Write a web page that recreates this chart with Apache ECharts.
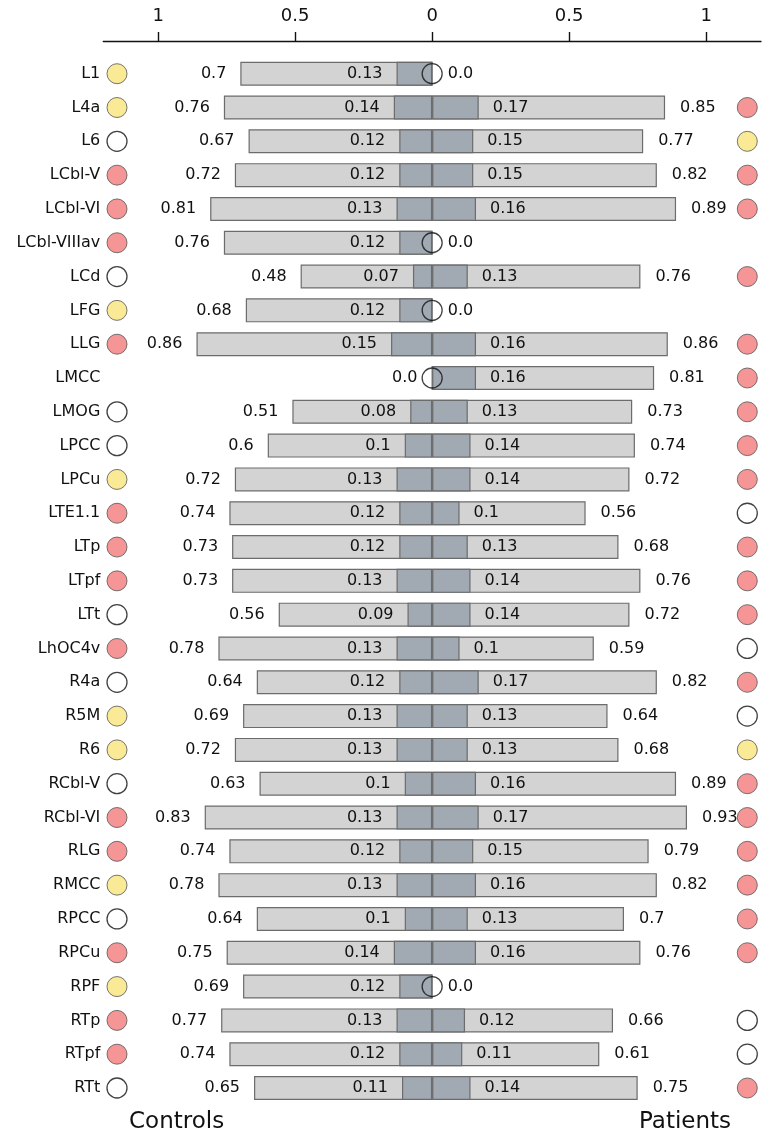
<!DOCTYPE html>
<html>
<head>
<meta charset="utf-8">
<script src="https://cdn.jsdelivr.net/npm/echarts@6/dist/echarts.min.js"></script>
<style>
html,body{margin:0;padding:0;background:#fff;}
#chart{width:765px;height:1136px;}
</style>
</head>
<body>
<div id="chart"></div>
<script>
const categories = ['L1','L4a','L6','LCbl-V','LCbl-VI','LCbl-VIIIav','LCd','LFG','LLG','LMCC','LMOG','LPCC','LPCu','LTE1.1','LTp','LTpf','LTt','LhOC4v','R4a','R5M','R6','RCbl-V','RCbl-VI','RLG','RMCC','RPCC','RPCu','RPF','RTp','RTpf','RTt'];
const controlsOuter = [0.7,0.76,0.67,0.72,0.81,0.76,0.48,0.68,0.86,0,0.51,0.6,0.72,0.74,0.73,0.73,0.56,0.78,0.64,0.69,0.72,0.63,0.83,0.74,0.78,0.64,0.75,0.69,0.77,0.74,0.65];
const controlsInner = [0.13,0.14,0.12,0.12,0.13,0.12,0.07,0.12,0.15,null,0.08,0.1,0.13,0.12,0.12,0.13,0.09,0.13,0.12,0.13,0.13,0.1,0.13,0.12,0.13,0.1,0.14,0.12,0.13,0.12,0.11];
const patientsOuter = [0,0.85,0.77,0.82,0.89,0,0.76,0,0.86,0.81,0.73,0.74,0.72,0.56,0.68,0.76,0.72,0.59,0.82,0.64,0.68,0.89,0.93,0.79,0.82,0.7,0.76,0,0.66,0.61,0.75];
const patientsInner = [null,0.17,0.15,0.15,0.16,null,0.13,null,0.16,0.16,0.13,0.14,0.14,0.1,0.13,0.14,0.14,0.1,0.17,0.13,0.13,0.16,0.17,0.15,0.16,0.13,0.16,null,0.12,0.11,0.14];
const controlsGroup = ['y','y','w','r','r','r','w','y','r','','w','w','y','r','r','r','w','r','w','y','y','w','r','r','y','w','r','y','r','r','w'];
const patientsGroup = ['','r','y','r','r','','r','','r','r','r','r','r','w','r','r','r','w','r','w','y','r','r','r','r','r','r','','w','w','r'];
const tickValues = [-1,-0.5,0,0.5,1];
const sideLabels = ['Controls','Patients'];

const FONT = 'DejaVu Sans';
const groupColor = {y:'#f9e37b', r:'#f47a7a', w:'#ffffff'};
const fmt = v => { const a = Math.abs(v); return a === 0 ? '0.0' : String(a); };

const barBase = {
  type:'bar', barWidth:24, barGap:'-100%',
  itemStyle:{borderColor:'#6c6c6c', borderWidth:1.2},
  label:{show:true, fontFamily:FONT, fontSize:16, color:'#111', distance:14,
         formatter:p => p.value == null ? '' : fmt(p.value)}
};

function statusData(groups, x){
  const out = [];
  groups.forEach((g,i)=>{
    if(!g) return;
    out.push({value:[x,i], itemStyle:{color:groupColor[g], borderColor: g==='w' ? '#111' : '#555', borderWidth: g==='w'?1.3:1}});
  });
  return out;
}
const zeroData = [];
controlsOuter.forEach((v,i)=>{ if(v===0) zeroData.push([0,i]); });
patientsOuter.forEach((v,i)=>{ if(v===0) zeroData.push([0,i]); });

const chart = echarts.init(document.getElementById('chart'), null, {renderer:'canvas'});
chart.setOption({
  animation:false,
  backgroundColor:'#fff',
  grid:{left:103.3, right:4, top:56.8, height:1048.1},
  xAxis:{
    type:'value', min:-1.2, max:1.2, position:'top', offset:15.8,
    splitLine:{show:false},
    axisLine:{show:true, lineStyle:{color:'#111', width:1.4}},
    axisTick:{show:true, length:9, lineStyle:{color:'#111', width:1.4}, customValues:tickValues},
    axisLabel:{fontFamily:FONT, fontSize:18, color:'#111', margin:16, customValues:tickValues,
               formatter:v => String(Math.abs(v))}
  },
  yAxis:{
    type:'category', inverse:true, data:categories,
    axisLine:{show:false}, axisTick:{show:false}, splitLine:{show:false},
    axisLabel:{fontFamily:FONT, fontSize:16, color:'#111', margin:3}
  },
  series:[
    Object.assign({}, barBase, {name:'ctrlOuter', data:controlsOuter.map(v=>-v),
      itemStyle:Object.assign({}, barBase.itemStyle, {color:'#d3d3d3'}),
      label:Object.assign({}, barBase.label, {position:'left'})}),
    Object.assign({}, barBase, {name:'patOuter', data:patientsOuter.slice(),
      itemStyle:Object.assign({}, barBase.itemStyle, {color:'#d3d3d3'}),
      label:Object.assign({}, barBase.label, {position:'right', distance:15})}),
    Object.assign({}, barBase, {name:'ctrlInner', data:controlsInner.map(v=>v==null?null:-v),
      itemStyle:Object.assign({}, barBase.itemStyle, {color:'#a1a9b2'}),
      label:Object.assign({}, barBase.label, {position:'left'})}),
    Object.assign({}, barBase, {name:'patInner', data:patientsInner.slice(),
      itemStyle:Object.assign({}, barBase.itemStyle, {color:'#a1a9b2'}),
      label:Object.assign({}, barBase.label, {position:'right'})}),
    {type:'scatter', name:'zero', symbol:'circle', symbolSize:20, data:zeroData, z:5,
      itemStyle:{color:'rgba(0,0,0,0)', borderColor:'#111', borderWidth:1.3}},
    {type:'scatter', name:'ctrlStatus', symbol:'circle', symbolSize:20, data:statusData(controlsGroup,-1.15), z:5},
    {type:'scatter', name:'patStatus', symbol:'circle', symbolSize:20, data:statusData(patientsGroup,1.15), z:5}
  ],
  graphic:[
    {type:'text', left:129, top:1111, style:{text:sideLabels[0], font:'23px "DejaVu Sans"', fill:'#111'}},
    {type:'text', left:639, top:1111, style:{text:sideLabels[1], font:'23px "DejaVu Sans"', fill:'#111'}}
  ]
});
</script>
</body>
</html>
